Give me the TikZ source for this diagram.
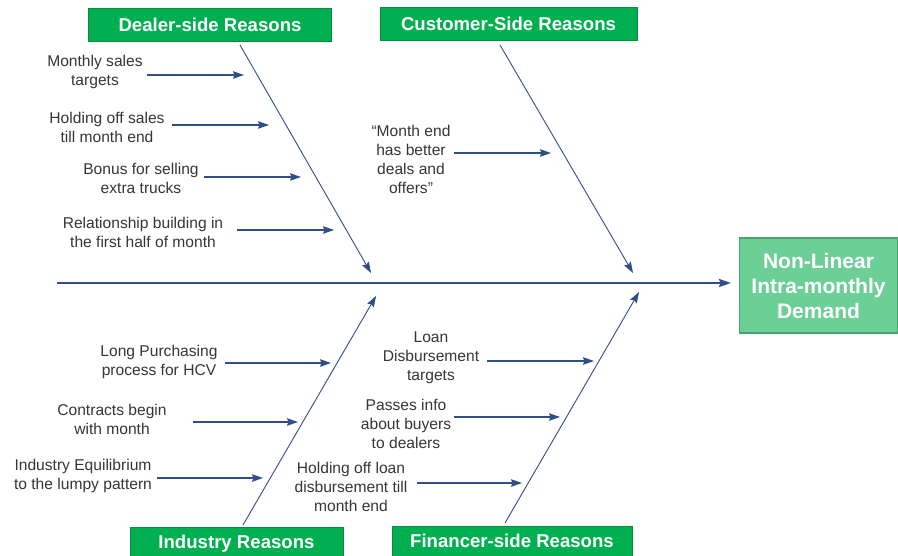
\documentclass[tikz,border=0pt]{standalone}
\usepackage{fontspec}
\setmainfont{Liberation Sans}
\usetikzlibrary{arrows.meta}
\definecolor{bone}{HTML}{2E4F8A}
\definecolor{txt}{HTML}{363636}
\definecolor{catgreen}{HTML}{00B050}
\definecolor{effgreen}{HTML}{6CCF96}
\definecolor{effborder}{HTML}{48A36E}
\tikzset{
  cause/.style={text=txt, align=center, font=\fontsize{15.6}{19}\selectfont, inner sep=0pt},
  catbox/.style={fill=catgreen, text=white, font=\bfseries\fontsize{18.6}{22}\selectfont, inner sep=0pt, draw=catgreen!80!black, line width=0.6pt},
  catlbl/.style={text=white, font=\bfseries\fontsize{18.6}{22}\selectfont, inner sep=0pt},
  sub/.style={draw=bone, line width=1.2pt, -{Stealth[length=11pt,width=7.5pt,inset=1.5pt]}},
  bonearrow/.style={draw=bone, line width=0.9pt, -{Stealth[length=11pt,width=7.5pt,inset=1.5pt]}},
  spine/.style={draw=bone, line width=1.8pt, -{Stealth[length=12pt,width=8pt,inset=1.5pt]}}
}
\begin{document}
\begin{tikzpicture}[x=1pt,y=-1pt]
\useasboundingbox (0,0) rectangle (898,556);
\clip (0,0) rectangle (898,556);
\fill[white] (0,0) rectangle (898,556);

% category boxes
\node[catbox, minimum width=243pt, minimum height=33pt] (dealer) at (210,25) {Dealer-side Reasons};
\node[catbox, minimum width=257pt, minimum height=33pt] (customer) at (508.5,24) {Customer-Side Reasons};
\node[catbox, minimum width=213pt, minimum height=40pt] (industry) at (236.5,547) {};
\node[catlbl] (industrylbl) at (236.5,544) {Industry Reasons};
\node[catbox, minimum width=240pt, minimum height=40pt] (financer) at (512,546) {};
\node[catlbl] (financerlbl) at (512,541) {Financer-side Reasons};

% effect box
\node[fill=effgreen, draw=effborder, line width=1.2pt, minimum width=158pt, minimum height=95pt, text=white, align=center,
  font=\bfseries\fontsize{21}{25}\selectfont, inner sep=0pt] (effect) at (818.5,285.5) {Non-Linear\\Intra-monthly\\Demand};

% spine
\coordinate (spinestart) at (57,283);
\coordinate (spineend) at (731,283);
\draw[spine] (spinestart) -- (spineend);

% bones
\coordinate (d0) at (240,45);   \coordinate (d1) at (371,273);
\coordinate (c0) at (500,45);   \coordinate (c1) at (633,273);
\coordinate (i0) at (243,525);  \coordinate (i1) at (376,296);
\coordinate (f0) at (505,523);  \coordinate (f1) at (639,292);
\draw[bonearrow] (d0) -- (d1);
\draw[bonearrow] (c0) -- (c1);
\draw[bonearrow] (i0) -- (i1);
\draw[bonearrow] (f0) -- (f1);

% dealer causes
\node[cause] (dc1) at (95,72) {Monthly sales\\targets};
\node[cause] (dc2) at (107,127) {Holding off sales\\till month end};
\node[cause] (dc3) at (141,178) {Bonus for selling\\extra trucks};
\node[cause] (dc4) at (143,232) {Relationship building in\\the first half of month};
\coordinate (da1s) at (147,75);  \coordinate (da1e) at (244,75);
\coordinate (da2s) at (172,125); \coordinate (da2e) at (269,125);
\coordinate (da3s) at (204,177); \coordinate (da3e) at (301,177);
\coordinate (da4s) at (237,230); \coordinate (da4e) at (334,230);
\draw[sub] (da1s) -- (da1e);
\draw[sub] (da2s) -- (da2e);
\draw[sub] (da3s) -- (da3e);
\draw[sub] (da4s) -- (da4e);

% customer cause
\node[cause] (cc1) at (411,159) {“Month end\\has better\\deals and\\offers”};
\coordinate (ca1s) at (454,153); \coordinate (ca1e) at (551,153);
\draw[sub] (ca1s) -- (ca1e);

% industry causes
\node[cause] (ic1) at (159,362) {Long Purchasing\\process for HCV};
\node[cause] (ic2) at (112,419) {Contracts begin\\with month};
\node[cause] (ic3) at (83,476) {Industry Equilibrium\\to the lumpy pattern};
\coordinate (ia1s) at (225,363); \coordinate (ia1e) at (331,363);
\coordinate (ia2s) at (193,422); \coordinate (ia2e) at (298,422);
\coordinate (ia3s) at (157,478); \coordinate (ia3e) at (263,478);
\draw[sub] (ia1s) -- (ia1e);
\draw[sub] (ia2s) -- (ia2e);
\draw[sub] (ia3s) -- (ia3e);

% financer causes
\node[cause] (fc1) at (431,358) {Loan\\Disbursement\\targets};
\node[cause] (fc2) at (406,424) {Passes info\\about buyers\\to dealers};
\node[cause] (fc3) at (351,487) {Holding off loan\\disbursement till\\month end};
\coordinate (fa1s) at (487,361); \coordinate (fa1e) at (594,361);
\coordinate (fa2s) at (454,417); \coordinate (fa2e) at (560,417);
\coordinate (fa3s) at (417,483); \coordinate (fa3e) at (522,483);
\draw[sub] (fa1s) -- (fa1e);
\draw[sub] (fa2s) -- (fa2e);
\draw[sub] (fa3s) -- (fa3e);
\end{tikzpicture}
\end{document}
